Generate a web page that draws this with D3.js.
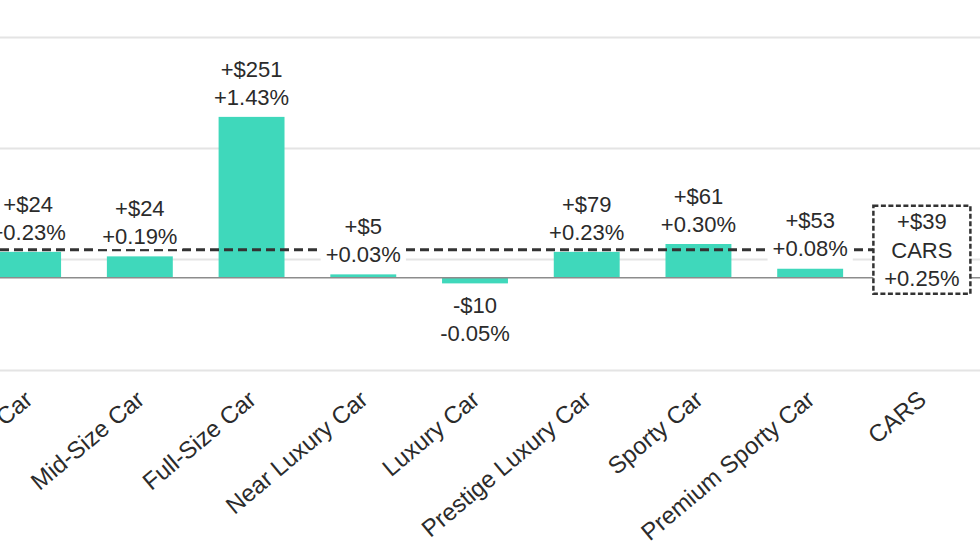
<!DOCTYPE html>
<html>
<head>
<meta charset="utf-8">
<script src="https://cdn.jsdelivr.net/npm/d3@7"></script>
<style>
  body { margin: 0; background: #fff; }
  svg { display: block; font-family: "Liberation Sans", Arial, sans-serif; }
</style>
</head>
<body>
<div id="chart"></div>
<script>
// values
var categories = ["Compact Car", "Mid-Size Car", "Full-Size Car", "Near Luxury Car", "Luxury Car",
                  "Prestige Luxury Car", "Sporty Car", "Premium Sporty Car", "CARS"];
var dollarChange = [24, 24, 251, 5, -10, 79, 61, 53, 39];
var pctChange = [0.23, 0.19, 1.43, 0.03, -0.05, 0.23, 0.30, 0.08, 0.25];
var gridTicks = [0, 1, 2, 3];
var totalName = "CARS";

var width = 980,
    height = 552;

var svg = d3.select("#chart")
    .append("svg")
    .attr("width", width)
    .attr("height", height);

var data = categories.map(function(c, i) {
  return {name: c, dollar: dollarChange[i], pct: pctChange[i]};
});
var total = data.find(d => d.name === totalName);
var bars = data.filter(d => d.name !== totalName);

// the chart is cut on the left, so the band range starts off-canvas
var x = d3.scaleBand()
    .domain(categories)
    .range([-27.75, 977.75])
    .paddingInner(0.41)
    .paddingOuter(0.205);

var y = d3.scaleLinear()
    .domain([-0.82, 2.14])
    .range([370, 37]);

var gridScale = d3.scaleLinear()
    .domain([0, 3])
    .range([370, 37]);

var fmtDollar = v => (v < 0 ? "-$" : "+$") + Math.abs(v);
var fmtPct = v => (v < 0 ? "-" : "+") + Math.abs(v).toFixed(2) + "%";

var textColor = "#2b2b2b";

// gridlines
svg.append("g")
    .call(d3.axisRight(gridScale).tickValues(gridTicks).tickSize(width).tickFormat(""))
    .call(g => g.select(".domain").remove())
    .call(g => g.selectAll(".tick line").attr("stroke", "#e4e4e4").attr("stroke-width", 2));

// bars
svg.append("g")
    .selectAll("rect")
    .data(bars)
    .join("rect")
    .attr("x", d => x(d.name))
    .attr("y", d => y(Math.max(0, d.pct)))
    .attr("width", x.bandwidth())
    .attr("height", d => Math.abs(y(d.pct) - y(0)))
    .attr("fill", "#3fd8bb");

// zero line
svg.append("line")
    .attr("x1", 0)
    .attr("x2", width)
    .attr("y1", y(0))
    .attr("y2", y(0))
    .attr("stroke", "#8c8c8c")
    .attr("stroke-width", 1.5);

// average line for all cars
var boxW = 97, boxH = 88;
var boxX = x(totalName) + x.bandwidth() / 2 - boxW / 2;
svg.append("line")
    .attr("x1", 0)
    .attr("x2", boxX)
    .attr("y1", y(total.pct))
    .attr("y2", y(total.pct))
    .attr("stroke", "#333")
    .attr("stroke-width", 3)
    .attr("stroke-dasharray", "9,5");

// bar labels with white backing
var fontSize = 22;
var labels = svg.append("g")
    .attr("font-size", fontSize)
    .attr("fill", textColor)
    .attr("text-anchor", "middle");

bars.forEach(function(d) {
  var cx = x(d.name) + x.bandwidth() / 2;
  var lines = [fmtDollar(d.dollar), fmtPct(d.pct)];
  var ys = d.pct >= 0
    ? [y(d.pct) - 48, y(d.pct) - 20]
    : [y(d.pct) + 22, y(d.pct) + 50];
  lines.forEach(function(t, k) {
    var txt = labels.append("text")
        .attr("x", cx)
        .attr("y", ys[k])
        .attr("dy", "0.35em")
        .text(t);
    var bb = txt.node().getBBox();
    labels.insert("rect", "text")
        .attr("x", bb.x - 5)
        .attr("y", bb.y + 2)
        .attr("width", bb.width + 10)
        .attr("height", bb.height - 2)
        .attr("fill", "#fff");
  });
});

// total box
var boxY = y(total.pct) - boxH / 2;
svg.append("rect")
    .attr("x", boxX)
    .attr("y", boxY)
    .attr("width", boxW)
    .attr("height", boxH)
    .attr("fill", "#fff")
    .attr("stroke", "#333")
    .attr("stroke-width", 2.5)
    .attr("stroke-dasharray", "5,2.5");

var boxLines = [fmtDollar(total.dollar), total.name, fmtPct(total.pct)];
svg.append("g")
    .attr("font-size", fontSize)
    .attr("fill", textColor)
    .attr("text-anchor", "middle")
    .selectAll("text")
    .data(boxLines)
    .join("text")
    .attr("x", x(totalName) + x.bandwidth() / 2)
    .attr("y", (d, i) => boxY + 16 + i * 28.5)
    .attr("dy", "0.35em")
    .text(d => d);

// category labels
svg.append("g")
    .attr("font-size", 24)
    .attr("fill", textColor)
    .attr("text-anchor", "end")
    .selectAll("text")
    .data(categories)
    .join("text")
    .attr("transform", d => `translate(${x(d) + x.bandwidth() / 2 + 6},${402}) rotate(-40)`)
    .text(d => d);
</script>
</body>
</html>
